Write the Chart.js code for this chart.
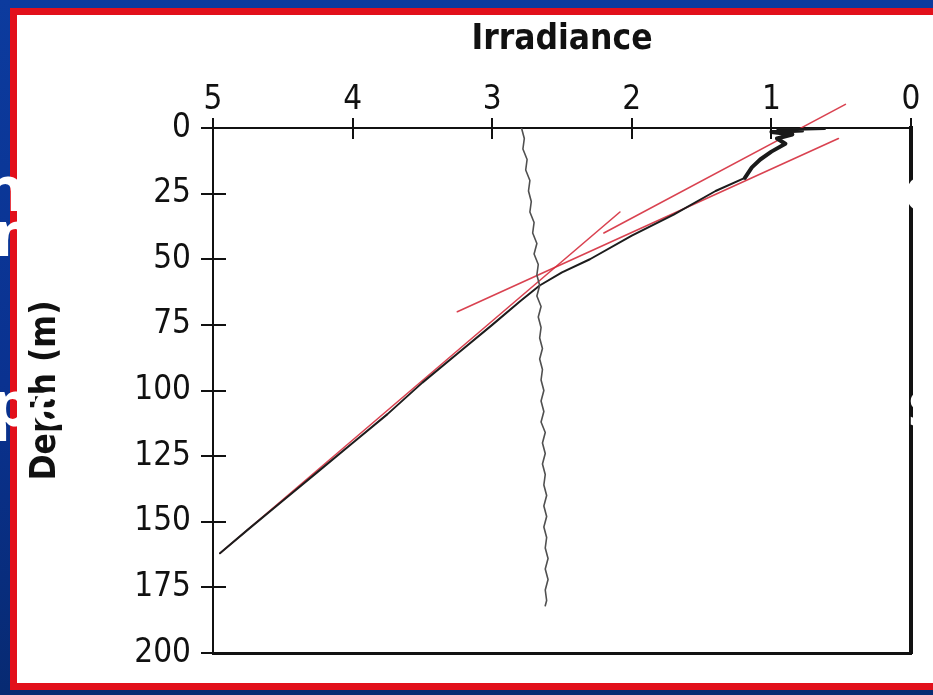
<!DOCTYPE html>
<html>
<head>
<meta charset="utf-8">
<script src="https://cdn.jsdelivr.net/npm/chart.js@4.4.1/dist/chart.umd.min.js"></script>
<style>
    html, body { margin: 0; padding: 0; }
    body {
        width: 933px; height: 695px; overflow: hidden; position: relative;
        background: linear-gradient(180deg, #0c3b9e 0%, #0a3290 55%, #072a72 100%);
    }
    .panel {
        position: absolute; left: 10px; top: 8px; width: 940px; height: 668px;
        background: #ffffff; border: 7px solid #e2101b;
    }
    #depthChart { position: absolute; left: 0; top: 0; }
    .slide-line {
        position: absolute; color: #ffffff; white-space: nowrap;
        font: bold 62px 'Open Sans', sans-serif; line-height: 62px;
    }
</style>
</head>
<body>
<div class="panel"></div>
<canvas id="depthChart" width="933" height="695"></canvas>
<div class="slide-line" style="left:-16px; top:156px;">nce</div>
<div class="slide-line" style="left:-6px; top:201px;">n,</div>
<div class="slide-line" style="left:-8px; top:371px;">po</div>
<div class="slide-line" style="left:904px; top:156px;">o</div>
<div class="slide-line" style="left:908px; top:371px;">s</div>
<script>
const chartCanvas = document.getElementById("depthChart")

// axis ticks
const irradianceTicks = [5, 4, 3, 2, 1, 0]
const depthTicks = [0, 25, 50, 75, 100, 125, 150, 175, 200]

// near-constant reference profile (grey wavy trace)
const referenceDepth = [0, 4, 8, 12, 16, 20, 24, 28, 32, 36, 40, 44, 48, 52, 56, 60, 64, 68, 72, 76, 80, 84, 88, 92, 96,
    100, 104, 108, 112, 116, 120, 124, 128, 132, 136, 140, 144, 148, 152, 156, 160, 164, 168, 172, 176, 180, 182]
const referenceIrradiance = [2.79, 2.77, 2.78, 2.75, 2.76, 2.73, 2.74, 2.72, 2.73, 2.70, 2.71, 2.68, 2.70, 2.67, 2.68, 2.66,
    2.68, 2.65, 2.67, 2.65, 2.66, 2.64, 2.66, 2.64, 2.65, 2.63, 2.65, 2.63, 2.65, 2.62, 2.64, 2.62, 2.64, 2.62, 2.63, 2.61,
    2.63, 2.61, 2.63, 2.61, 2.62, 2.60, 2.62, 2.60, 2.62, 2.61, 2.62]

// measured irradiance profile near the surface (thick noisy part)
const surfaceDepth = [0, 0.5, 1, 1.5, 2.5, 4, 6, 9, 12, 15, 19]
const surfaceIrradiance = [0.62, 0.95, 0.78, 1.00, 0.85, 0.96, 0.90, 1.00, 1.08, 1.14, 1.19]

// measured irradiance profile below (black trace)
const profileDepth = [19, 24, 33, 41, 50, 55, 60, 66, 75, 86, 97, 109, 120, 131, 142, 153, 162]
const profileIrradiance = [1.19, 1.40, 1.70, 2.00, 2.30, 2.50, 2.66, 2.80, 3.00, 3.25, 3.50, 3.75, 4.00, 4.25, 4.50, 4.75, 4.95]

// fitted lines (red)
const fitSurfaceIrradiance = [0.47, 2.20]
const fitSurfaceDepth = [-9, 40]
const fitUpperIrradiance = [0.52, 3.25]
const fitUpperDepth = [4, 70]
const fitDeepIrradiance = [2.085, 4.95]
const fitDeepDepth = [32, 162]

const toPoints = (xs, ys) => xs.map((x, i) => ({x: x, y: ys[i]}))

const fontFamily = "'Liberation Sans Narrow', 'DejaVu Sans Condensed', 'Liberation Sans', sans-serif"
const tickFont = {family: fontFamily, size: 33}
const inkColor = "#111111"
const fitColor = "rgba(212, 40, 56, 0.88)"

const lineDataset = (points, color, width, clip) => {
    return {
        data: points,
        showLine: true,
        borderColor: color,
        borderWidth: width,
        borderJoinStyle: "round",
        borderCapStyle: "round",
        pointRadius: 0,
        pointHoverRadius: 0,
        tension: 0,
        fill: false,
        clip: clip
    }
}

// small tick marks that cross into the plot area
const innerTicks = {
    id: "innerTicks",
    afterDatasetsDraw(chart) {
        const {ctx, chartArea, scales} = chart
        ctx.save()
        ctx.strokeStyle = inkColor
        ctx.lineWidth = 2
        ctx.beginPath()
        scales.x.ticks.forEach((tick) => {
            const px = Math.round(scales.x.getPixelForValue(tick.value))
            ctx.moveTo(px, chartArea.top)
            ctx.lineTo(px, chartArea.top + 11)
        })
        scales.y.ticks.forEach((tick) => {
            const py = Math.round(scales.y.getPixelForValue(tick.value))
            ctx.moveTo(chartArea.left, py)
            ctx.lineTo(chartArea.left + 13, py)
        })
        ctx.stroke()
        ctx.restore()
    }
}

new Chart(chartCanvas, {
    type: "scatter",
    data: {
        datasets: [
            lineDataset(toPoints(referenceIrradiance, referenceDepth), "#505050", 1.6, true),
            lineDataset(toPoints(profileIrradiance, profileDepth), "#1c1c1c", 2, true),
            lineDataset(toPoints(surfaceIrradiance, surfaceDepth), "#1a1a1a", 4, true),
            lineDataset(toPoints(fitSurfaceIrradiance, fitSurfaceDepth), fitColor, 1.6, false),
            lineDataset(toPoints(fitUpperIrradiance, fitUpperDepth), fitColor, 1.6, false),
            lineDataset(toPoints(fitDeepIrradiance, fitDeepDepth), fitColor, 1.6, false)
        ]
    },
    options: {
        responsive: false,
        animation: false,
        layout: {padding: {left: 20, top: 15, right: 22, bottom: 42}},
        plugins: {legend: {display: false}, tooltip: {enabled: false}},
        scales: {
            x: {
                type: "linear",
                position: "top",
                reverse: true,
                min: 0,
                max: 5,
                afterBuildTicks: (scale) => { scale.ticks = irradianceTicks.map((v) => ({value: v})) },
                afterFit: (scale) => { scale.height = 113 },
                ticks: {color: inkColor, font: tickFont, padding: -2, maxRotation: 0},
                grid: {drawOnChartArea: false, color: inkColor, lineWidth: 2, tickLength: 10},
                border: {color: inkColor, width: 2},
                title: {display: true, text: "Irradiance", color: inkColor, font: {family: fontFamily, size: 35, weight: "bold"}, padding: {top: 4, bottom: 0}}
            },
            y: {
                type: "linear",
                position: "left",
                reverse: true,
                min: 0,
                max: 200,
                afterBuildTicks: (scale) => { scale.ticks = depthTicks.map((v) => ({value: v})) },
                afterFit: (scale) => { scale.width = 193 },
                ticks: {color: inkColor, font: tickFont, padding: 10},
                grid: {drawOnChartArea: false, color: inkColor, lineWidth: 2, tickLength: 12},
                border: {color: inkColor, width: 2},
                title: {display: true, text: "Depth (m)", color: inkColor, font: {family: fontFamily, size: 35, weight: "bold"}, padding: {top: 5, bottom: 0}}
            },
            xBottom: {
                type: "linear",
                position: "bottom",
                display: true,
                min: 0,
                max: 5,
                afterFit: (scale) => { scale.height = 0 },
                ticks: {display: false},
                grid: {drawOnChartArea: false, drawTicks: false},
                border: {color: inkColor, width: 3}
            },
            yRight: {
                type: "linear",
                position: "right",
                display: true,
                min: 0,
                max: 200,
                afterFit: (scale) => { scale.width = 0 },
                ticks: {display: false},
                grid: {drawOnChartArea: false, drawTicks: false},
                border: {color: inkColor, width: 4}
            }
        }
    },
    plugins: [innerTicks]
})
</script>
</body>
</html>
